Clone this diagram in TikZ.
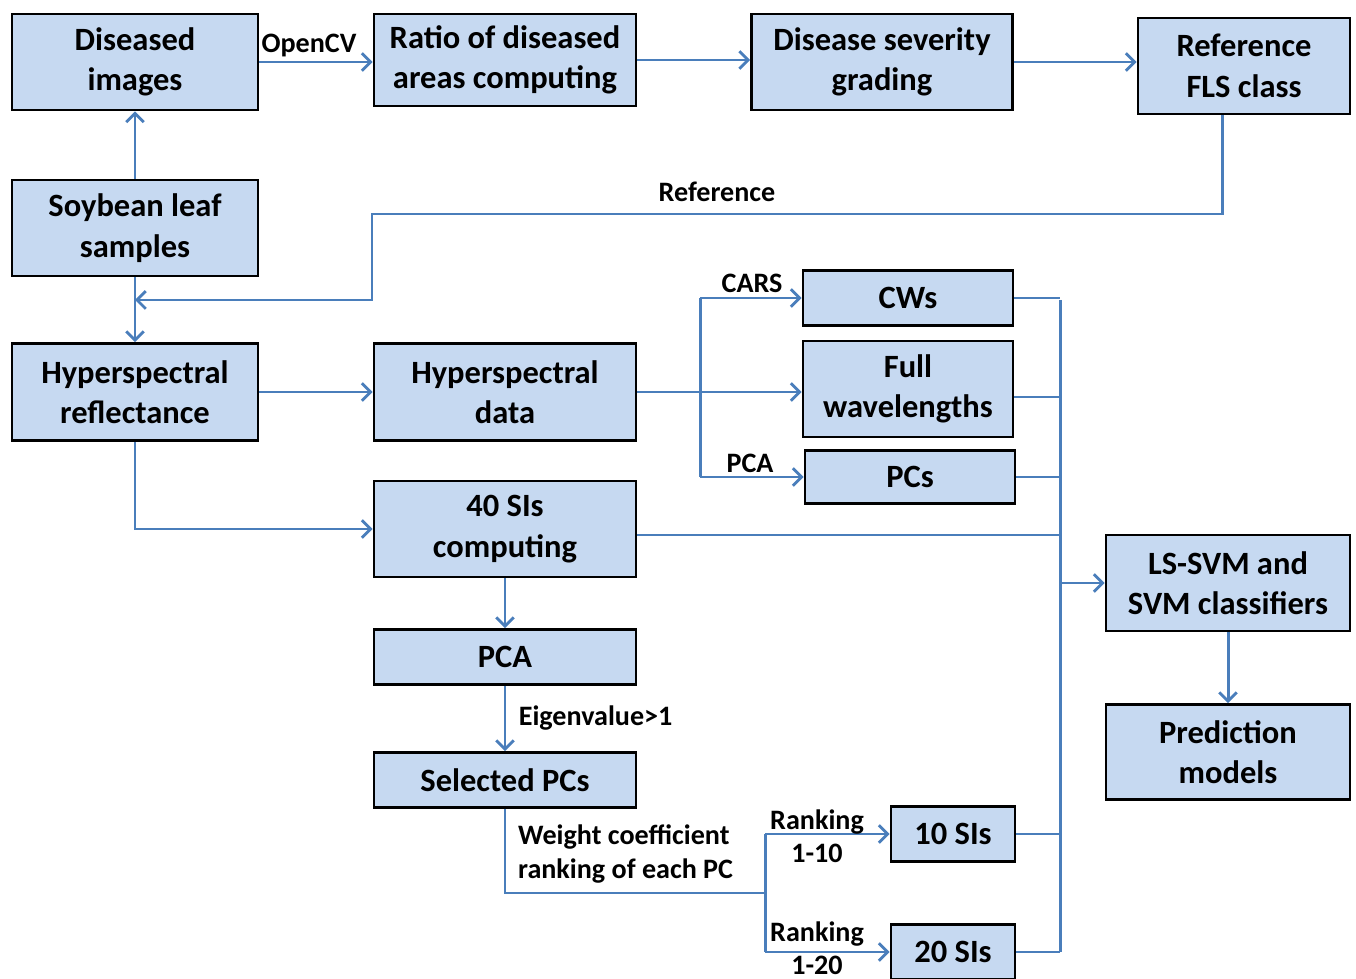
\documentclass[tikz,border=0pt]{standalone}
\usepackage{fontspec}
\setmainfont{Carlito}
\usetikzlibrary{arrows.meta}

\definecolor{boxfill}{HTML}{C6D9F1}
\definecolor{linkblue}{HTML}{4A7EBB}

\tikzset{
  box/.style={draw=black, fill=boxfill, line width=1.6pt, align=center,
    font=\fontsize{18.5}{23}\selectfont\bfseries, inner sep=2pt},
  lab/.style={font=\fontsize{16}{19}\selectfont\bfseries, inner sep=1pt},
  link/.style={draw=linkblue, line width=1.7pt},
  arr/.style={link, -{Straight Barb[length=5pt,width=10pt,line width=1.6pt]}}
}

\begin{document}
\begin{tikzpicture}[x=0.02cm,y=-0.02cm]
\useasboundingbox (0,0) rectangle (1356,979);

% top row
\node[box, minimum width=4.92cm, minimum height=1.92cm] (dis) at (135,62) {Diseased\\images};
\node[box, minimum width=5.24cm, minimum height=1.84cm] (rat) at (505,60) {Ratio of diseased\\areas computing};
\node[box, minimum width=5.22cm, minimum height=1.92cm] (sev) at (882,62) {Disease severity\\grading};
\node[box, minimum width=4.24cm, minimum height=1.92cm] (ref) at (1244,66) {Reference\\FLS class};

% left column
\node[box, minimum width=4.92cm, minimum height=1.92cm] (soy) at (135,228) {Soybean leaf\\samples};
\node[box, minimum width=4.92cm, minimum height=1.94cm] (hr) at (135,392) {Hyperspectral\\reflectance};

% middle column
\node[box, minimum width=5.24cm, minimum height=1.94cm] (hd) at (505,392) {Hyperspectral\\data};
\node[box, minimum width=5.24cm, minimum height=1.92cm] (si) at (505,529) {40 SIs\\computing};
\node[box, minimum width=5.24cm, minimum height=1.10cm] (pca) at (505,657) {PCA};
\node[box, minimum width=5.24cm, minimum height=1.10cm] (sel) at (505,780) {Selected PCs};

% variable sets
\node[box, minimum width=4.20cm, minimum height=1.10cm] (cw) at (908,298) {CWs};
\node[box, minimum width=4.20cm, minimum height=1.92cm] (fw) at (908,389) {Full\\wavelengths};
\node[box, minimum width=4.20cm, minimum height=1.06cm] (pc) at (910,477) {PCs};
\node[box, minimum width=2.48cm, minimum height=1.10cm] (s10) at (953,834) {10 SIs};
\node[box, minimum width=2.48cm, minimum height=1.10cm] (s20) at (953,952) {20 SIs};

% right column
\node[box, minimum width=4.88cm, minimum height=1.92cm] (svm) at (1228,583) {LS-SVM and\\SVM classifiers};
\node[box, minimum width=4.88cm, minimum height=1.90cm] (pred) at (1228,752) {Prediction\\models};

\coordinate (jn) at (135,300);
\coordinate (col) at (1060,300);
\coordinate (br) at (700,392);
\coordinate (rk) at (765,893);

% image branch
\draw[arr] (dis.east) -- (dis.east -| rat.west) node[lab, midway, above=1pt, xshift=-4pt] (ocv) {OpenCV};
\draw[arr] (rat.east) -- (rat.east -| sev.west);
\draw[arr] (sev.east) -- (sev.east -| ref.west);
\draw[arr] (soy.north) -- (dis.south);
\draw[arr] (soy.south) -- (hr.north);
\draw[arr] ([xshift=-0.44cm]ref.south) |- (372,214) -- (372,300) -- (jn);
\node[lab] (rlab) at (717,192) {Reference};

% spectral branch
\draw[arr] (hr.east) -- (hr.east -| hd.west);
\draw[arr] (hd.east) -- (hd.east -| fw.west);
\draw[link] (br |- cw) -- (br |- pc);
\draw[arr] (br |- cw) -- (cw.west);
\draw[arr] (br |- pc) -- (pc.west);
\node[lab] (cars) at (752,283) {CARS};
\node[lab] (pcal) at (750,463) {PCA};

% SI branch
\draw[arr] (hr.south) |- (si.west);
\draw[arr] (si.south) -- (pca.north);
\draw[arr] (pca.south) -- (sel.north) node[lab, midway, right=6pt] (eig) {Eigenvalue>1};
\draw[link] (sel.south) |- (rk);
\draw[link] (rk |- s10) -- (rk |- s20);
\draw[arr] (rk |- s10) -- (s10.west);
\draw[arr] (rk |- s20) -- (s20.west);
\node[lab, align=left, anchor=west] (wlab) at (516,854) {Weight coefficient\\ranking of each PC};
\node[lab, align=center] (r10) at (817,836) {Ranking\\1-10};
\node[lab, align=center] (r20) at (817,948) {Ranking\\1-20};

% collector
\draw[link] (col) -- (col |- s20);
\draw[link] (cw.east) -- (cw.east -| col);
\draw[link] (fw.east |- 0,397) -- (col |- 0,397);
\draw[link] (pc.east) -- (pc.east -| col);
\draw[link] (si.east |- 0,535) -- (col |- 0,535);
\draw[link] (s10.east) -- (s10.east -| col);
\draw[link] (s20.east) -- (s20.east -| col);
\draw[arr] (svm.west -| col) -- (svm.west);
\draw[arr] (svm.south) -- (pred.north);

\end{tikzpicture}
\end{document}
